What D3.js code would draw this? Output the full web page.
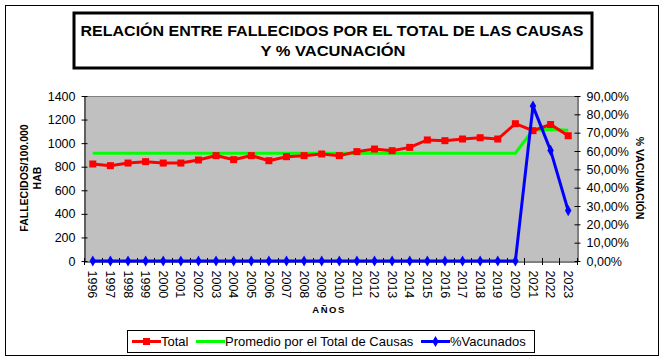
<!DOCTYPE html>
<html><head><meta charset="utf-8">
<script src="https://cdn.jsdelivr.net/npm/d3@7"></script>
<style>body{margin:0;background:#fff}svg{display:block}text{font-family:Arial,"Liberation Sans",sans-serif}</style>
</head><body><svg id="c" width="666" height="362"></svg>
<script>
const years = [1996,1997,1998,1999,2000,2001,2002,2003,2004,2005,2006,2007,2008,2009,2010,2011,2012,2013,2014,2015,2016,2017,2018,2019,2020,2021,2022,2023];
const total = [823,809,831,843,831,831,857,894,860,894,851,885,894,908,894,928,950,936,964,1027,1021,1035,1046,1035,1165,1106,1158,1063];
const promedio = [915,915,915,915,915,915,915,915,915,915,915,915,915,915,915,915,915,915,915,915,915,915,915,915,915,1112,1115,1110];
const vacunados = [0,0,0,0,0,0,0,0,0,0,0,0,0,0,0,0,0,0,0,0,0,0,0,0,0,84.5,60.3,27.5];
const leftTicks = [0,200,400,600,800,1000,1200,1400];
const rightTicks = [0,10,20,30,40,50,60,70,80,90];
const titleLines = ["RELACIÓN ENTRE FALLECIDOS POR EL TOTAL DE LAS CAUSAS","Y % VACUNACIÓN"];
const legendItems = ["Total","Promedio por el Total de Causas","%Vacunados"];

const svg = d3.select("#c");
const L=84, R=577, T=96, B=261;
const FF = "Arial, 'Liberation Sans', sans-serif";

svg.append("rect").attr("x",5.5).attr("y",5.5).attr("width",653).attr("height",350).attr("fill","#fff").attr("stroke","#000").attr("stroke-width",1);

// title
svg.append("rect").attr("x",74).attr("y",13).attr("width",518).attr("height",55).attr("fill","#fff").attr("stroke","#000").attr("stroke-width",3);
svg.append("text").attr("x",332).attr("y",35.5).attr("text-anchor","middle").attr("font-size",15.5).attr("font-weight","bold").attr("textLength",503).attr("lengthAdjust","spacingAndGlyphs").text(titleLines[0]);
svg.append("text").attr("x",333).attr("y",55.5).attr("text-anchor","middle").attr("font-size",15.5).attr("font-weight","bold").attr("textLength",145).attr("lengthAdjust","spacingAndGlyphs").text(titleLines[1]);

const x = d3.scaleBand().domain(years).range([L,R]);
const y = d3.scaleLinear().domain([0,1400]).range([B,T]);
const y2 = d3.scaleLinear().domain([0,90]).range([B,T]);
const cx = d => x(d)+x.bandwidth()/2;

svg.append("rect").attr("x",L).attr("y",T).attr("width",R-L).attr("height",B-T).attr("fill","#C0C0C0");
svg.append("line").attr("x1",L).attr("x2",R).attr("y1",T+0.5).attr("y2",T+0.5).attr("stroke","#808080");

// left axis
const gl = svg.append("g").attr("transform",`translate(${L+0.5},0)`)
  .call(d3.axisLeft(y).tickValues(leftTicks).tickFormat(d3.format("d")).tickSize(3).tickSizeOuter(0).tickPadding(6));
gl.selectAll(".tick line").attr("x2",3).attr("x1",-3);
gl.selectAll("text").attr("font-size",12.5).attr("fill","#000").style("font-family",FF);
gl.select(".domain").attr("stroke","#000");

// right axis
const gr = svg.append("g").attr("transform",`translate(${R+0.5},0)`)
  .call(d3.axisRight(y2).tickValues(rightTicks).tickSize(3).tickSizeOuter(0).tickPadding(6).tickFormat(d=>d3.format(".2f")(d).replace(".",",")+"%"));
gr.selectAll(".tick line").attr("x1",-3).attr("x2",3);
gr.selectAll("text").attr("font-size",12.5).attr("fill","#000").style("font-family",FF);
gr.select(".domain").attr("stroke","#000");

// bottom axis
const gb = svg.append("g").attr("transform",`translate(0,${B+0.5})`)
  .call(d3.axisBottom(x).tickSize(0).tickSizeOuter(0).tickPadding(0));
gb.select(".domain").attr("stroke","#000");
gb.selectAll(".tick line").remove();
gb.selectAll(".tick text").attr("font-size",12.5).attr("fill","#000").attr("text-anchor","start")
  .attr("transform","translate(0,9) rotate(90)").attr("dy","0.35em").attr("x",0).attr("y",0)
  .style("font-family",FF);
const bounds = years.map(d=>x(d)).concat([R]);
svg.append("g").selectAll("line").data(bounds).join("line")
  .attr("x1",d=>Math.round(d)+0.5).attr("x2",d=>Math.round(d)+0.5).attr("y1",B-3).attr("y2",B+4).attr("stroke","#000");

// axis titles
svg.append("text").attr("transform","translate(27.5,178) rotate(-90)").attr("text-anchor","middle").attr("font-size",10.5).attr("font-weight","bold").text("FALLECIDOS/100.000");
svg.append("text").attr("transform","translate(40.5,178) rotate(-90)").attr("text-anchor","middle").attr("font-size",10.5).attr("font-weight","bold").text("HAB");
svg.append("text").attr("transform","translate(636,178) rotate(90)").attr("text-anchor","middle").attr("font-size",10.5).attr("font-weight","bold").text("% VACUNACIÓN");
svg.append("text").attr("x",329).attr("y",313).attr("text-anchor","middle").attr("font-size",9.5).attr("font-weight","bold").attr("letter-spacing",1.5).text("AÑOS");

// lines
const line1 = d3.line().x((d,i)=>cx(years[i])).y(d=>y(d));
const line2 = d3.line().x((d,i)=>cx(years[i])).y(d=>y2(d));
svg.append("path").datum(promedio).attr("d",line1).attr("fill","none").attr("stroke","#00FF00").attr("stroke-width",3);
svg.append("path").datum(total).attr("d",line1).attr("fill","none").attr("stroke","#FF0000").attr("stroke-width",3);
svg.append("g").selectAll("rect").data(total).join("rect")
  .attr("x",(d,i)=>cx(years[i])-3.5).attr("y",d=>y(d)-3.5).attr("width",7).attr("height",7).attr("fill","#FF0000");
svg.append("path").datum(vacunados).attr("d",line2).attr("fill","none").attr("stroke","#0000FF").attr("stroke-width",3);
svg.append("g").selectAll("path").data(vacunados).join("path")
  .attr("transform",(d,i)=>`translate(${cx(years[i])},${y2(d)})`)
  .attr("d",d3.symbol(d3.symbolDiamond,36)).attr("fill","#0000FF");

// legend
svg.append("rect").attr("x",127.5).attr("y",330.5).attr("width",407).attr("height",22).attr("fill","#fff").attr("stroke","#000");
const lg = [
  {x:132, c:"#FF0000", m:"sq", t:legendItems[0]},
  {x:196, c:"#00FF00", m:null, t:legendItems[1]},
  {x:421, c:"#0000FF", m:"di", t:legendItems[2]}
];
lg.forEach(o=>{
  svg.append("line").attr("x1",o.x).attr("x2",o.x+29).attr("y1",341.5).attr("y2",341.5).attr("stroke",o.c).attr("stroke-width",3);
  if(o.m==="sq") svg.append("rect").attr("x",o.x+11).attr("y",338).attr("width",7).attr("height",7).attr("fill",o.c);
  if(o.m==="di") svg.append("path").attr("transform",`translate(${o.x+14.5},341.5)`).attr("d",d3.symbol(d3.symbolDiamond,36)).attr("fill",o.c);
  svg.append("text").attr("x",o.x+29).attr("y",346).attr("font-size",13).text(o.t);
});
</script></body></html>
